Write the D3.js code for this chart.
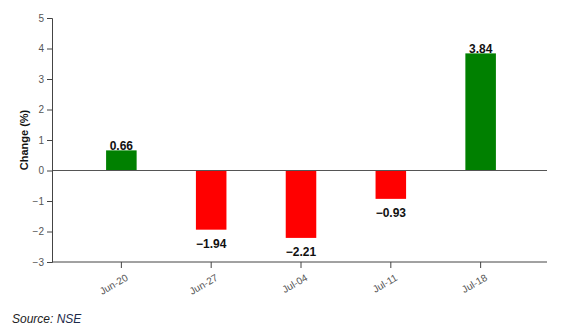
<!DOCTYPE html>
<html><head><meta charset="utf-8">
<script src="https://cdn.jsdelivr.net/npm/d3@7"></script>
<style>body{margin:0;background:#fff;} text{font-family:"Liberation Sans",Arial,sans-serif;}</style>
</head><body>
<svg id="c" width="579" height="331"></svg>
<script>
const categories = ["Jun-20","Jun-27","Jul-04","Jul-11","Jul-18"];
const values = [0.66,-1.94,-2.21,-0.93,3.84];
const yTicks = [-3,-2,-1,0,1,2,3,4,5];
const yLabel = "Change (%)";
const source = "NSE";

(function(){
const svg = d3.select("#c");
const mL = 52, mR = 547, mT = 18, mB = 262;
const x = d3.scaleBand().domain(categories).range([mL + 2, mR + 1]).paddingInner(0.66).paddingOuter(0.58);
const y = d3.scaleLinear().domain([-3,5]).range([mB, mT]);

// bars
svg.selectAll("rect.bar").data(values).join("rect")
  .attr("x", (d,i)=>x(categories[i]))
  .attr("width", x.bandwidth())
  .attr("y", d=>y(Math.max(0,d)))
  .attr("height", d=>Math.abs(y(d)-y(0)))
  .attr("fill", d=>d>=0?"#008000":"#ff0000");

// zero line
svg.append("line").attr("x1",mL).attr("x2",mR).attr("y1",y(0)).attr("y2",y(0))
  .attr("stroke","#555").attr("stroke-width",1.2);

// y axis
const ya = svg.append("g").attr("transform",`translate(${mL},0)`)
  .call(d3.axisLeft(y).tickValues(yTicks).tickSize(5).tickFormat(d3.format("d")));
ya.select(".domain").attr("stroke","#444");
ya.selectAll(".tick line").attr("stroke","#444");
ya.selectAll(".tick text").attr("fill","#555").style("font-size","10px").style("font-family","'Liberation Sans',Arial,sans-serif");

// x axis
const xa = svg.append("g").attr("transform",`translate(0,${mB})`)
  .call(d3.axisBottom(x).tickSize(6).tickSizeOuter(0));
xa.select(".domain").remove();
xa.append("line").attr("x1",mL).attr("x2",mR).attr("stroke","#444");
xa.selectAll(".tick line").attr("stroke","#444");
xa.selectAll(".tick text").attr("fill","#555").style("font-size","10px")
  .style("font-family","'Liberation Sans',Arial,sans-serif")
  .attr("text-anchor","end").attr("dx","-0.25em").attr("dy","1em")
  .attr("transform","rotate(-30)");

// value labels
svg.selectAll("text.val").data(values).join("text")
  .attr("class","val")
  .attr("x",(d,i)=>x(categories[i])+x.bandwidth()/2)
  .attr("y",d=>d>=0? y(d)-0.5 : y(d)+18)
  .attr("text-anchor","middle")
  .attr("font-weight","bold").attr("font-size","12px").attr("fill","#111")
  .text(d=>d3.format(".2f")(d).replace("-","\u2212"));

// y label
svg.append("text").attr("transform",`translate(28,140) rotate(-90)`)
  .attr("text-anchor","middle").attr("font-weight","bold").attr("font-size","11px").attr("fill","#111")
  .text(yLabel);

// source
const s = svg.append("text").attr("x",12).attr("y",323).attr("font-size","12px").attr("font-style","italic");
s.append("tspan").attr("fill","#222").text("Source: ");
s.append("tspan").attr("fill","#1c2a4a").text(source);
})();
</script>
</body></html>
